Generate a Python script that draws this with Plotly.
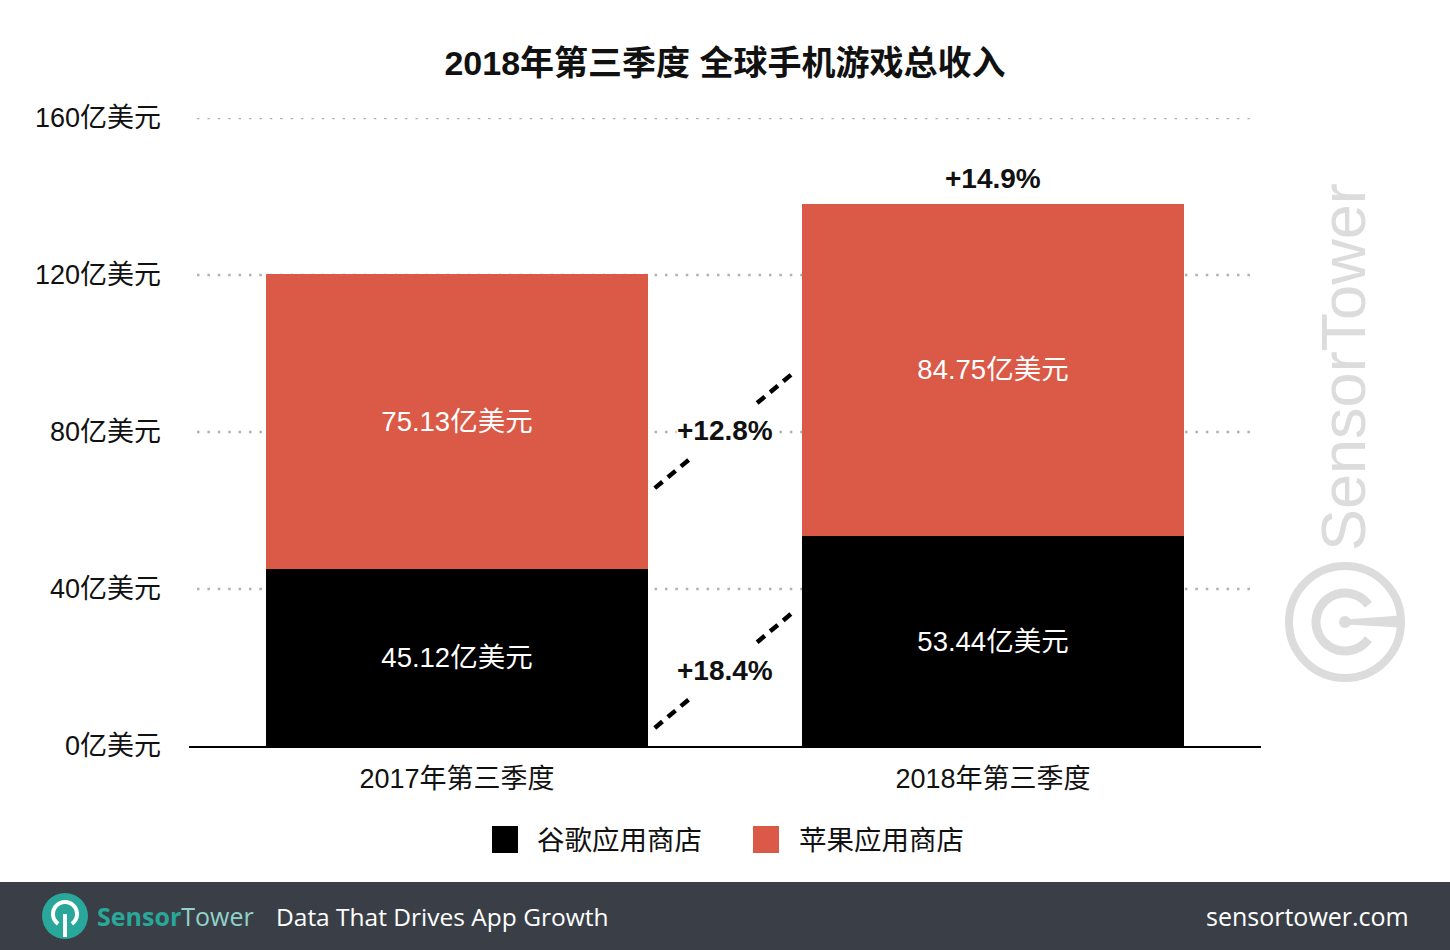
import numpy as np
import plotly.graph_objects as go

# ---------------- data ----------------
categories = ["2017年第三季度", "2018年第三季度"]
google_play = [45.12, 53.44]
app_store = [75.13, 84.75]
series_names = ["谷歌应用商店", "苹果应用商店"]
y_ticks = [0, 40, 80, 120, 160]
y_tick_labels = [f"{v}亿美元" for v in y_ticks]
title_text = "2018年第三季度 全球手机游戏总收入"

# ---------------- style ----------------
FONT = "Liberation Sans, Noto Sans CJK SC"
BLACK = "#000000"
RED = "#da5a47"
GRID = "#b0b0b0"
WM = "#dcdcdc"
FOOT = "#3a3f47"
TEAL = "#2aa79b"
TEAL_L = "#8fd3c9"

W, H = 1450, 950
L, R, T, B = 189, 1261, 118, 746


def X(px):
    return (px - L) / (R - L)


def Y(py):
    return (B - py) / (B - T)


fig = go.Figure()
for name, vals, col in zip(series_names, [google_play, app_store], [BLACK, RED]):
    fig.add_trace(go.Bar(
        x=categories, y=vals, name=name, width=0.713,
        marker=dict(color=col, line=dict(width=0)),
        text=[f"{v:.2f}亿美元" for v in vals],
        textposition="inside", insidetextanchor="middle",
        textfont=dict(family=FONT, size=27.5, color="white"),
        showlegend=False, hoverinfo="skip",
    ))

shapes = []
annotations = []

# dotted gridlines (inset from the plot edges, under the bars)
for v in y_ticks[1:]:
    shapes.append(dict(type="line", xref="paper", yref="y", layer="below",
                       x0=X(197), x1=X(1254), y0=v, y1=v,
                       line=dict(color=GRID, width=2.5, dash="2.5px,7.9px")))

# growth of total above second bar
tot = [g + a for g, a in zip(google_play, app_store)]
annotations.append(dict(
    x=categories[1], y=tot[1], xref="x", yref="y", yanchor="bottom",
    yshift=8, showarrow=False,
    text=f"<b>+{(tot[1] / tot[0] - 1) * 100:.1f}%</b>",
    font=dict(family=FONT, size=28, color="#111"),
))

# connectors between bars with growth labels
connectors = [(4.6, 34.1, google_play), (65.7, 95.0, app_store)]
xa, xb = 0.369, 0.627
for y0, y1, vals in connectors:
    for t0, t1 in [(0.0, 0.26), (0.74, 1.0)]:
        shapes.append(dict(
            type="line", xref="x", yref="y",
            x0=xa + (xb - xa) * t0, x1=xa + (xb - xa) * t1,
            y0=y0 + (y1 - y0) * t0, y1=y0 + (y1 - y0) * t1,
            line=dict(color=BLACK, width=4.5, dash="10px,7px"),
        ))
    annotations.append(dict(
        x=0.5, y=(y0 + y1) / 2, xref="x", yref="y", showarrow=False,
        text=f"<b>+{(vals[1] / vals[0] - 1) * 100:.1f}%</b>",
        font=dict(family=FONT, size=28, color="#111"),
        bgcolor="white", borderpad=0,
    ))

# manual legend
for (sx, tx), name, col in zip([(492, 535), (753, 797)], series_names, [BLACK, RED]):
    shapes.append(dict(type="rect", xref="paper", yref="paper",
                       x0=X(sx), x1=X(sx + 26), y0=Y(853), y1=Y(826),
                       fillcolor=col, line=dict(width=0)))
    annotations.append(dict(x=X(tx), y=Y(840), xref="paper", yref="paper",
                            xanchor="left", yanchor="middle", showarrow=False,
                            text=name, font=dict(family=FONT, size=27.5, color="#111")))

# watermark
annotations.append(dict(x=X(1343), y=Y(367), xref="paper", yref="paper",
                        xanchor="center", yanchor="middle", showarrow=False,
                        textangle=-90, text="SensorTower",
                        font=dict(family="Liberation Sans", size=63, color=WM)))
cx, cy = 1345, 622
shapes.append(dict(type="circle", xref="paper", yref="paper",
                   x0=X(cx - 56), x1=X(cx + 56), y0=Y(cy + 56), y1=Y(cy - 56),
                   line=dict(color=WM, width=8)))
ang = np.radians(np.linspace(36, 324, 40))
pts = [(cx + 29 * np.cos(a), cy - 29 * np.sin(a)) for a in ang]
path = "M " + " L ".join(f"{X(px):.5f},{Y(py):.5f}" for px, py in pts)
shapes.append(dict(type="path", xref="paper", yref="paper", path=path,
                   line=dict(color=WM, width=9)))
stem = [(cx, cy - 2.5), (cx + 56, cy - 6.5), (cx + 56, cy + 5.5), (cx, cy + 2.5)]
path = "M " + " L ".join(f"{X(px):.5f},{Y(py):.5f}" for px, py in stem) + " Z"
shapes.append(dict(type="path", xref="paper", yref="paper", path=path,
                   fillcolor=WM, line=dict(width=0)))
shapes.append(dict(type="circle", xref="paper", yref="paper",
                   x0=X(cx - 6), x1=X(cx + 6), y0=Y(cy + 6), y1=Y(cy - 6),
                   fillcolor=WM, line=dict(width=0)))

# footer band
shapes.append(dict(type="rect", xref="paper", yref="paper",
                   x0=X(-5), x1=X(W + 5), y0=Y(H + 5), y1=Y(882),
                   fillcolor=FOOT, line=dict(width=0)))
fx, fy = 65, 916
shapes.append(dict(type="circle", xref="paper", yref="paper",
                   x0=X(fx - 23), x1=X(fx + 23), y0=Y(fy + 23), y1=Y(fy - 23),
                   fillcolor=TEAL, line=dict(width=0)))
ang = np.radians(np.linspace(-55, 235, 40))
pts = [(fx + 12 * np.cos(a), fy - 2 - 12 * np.sin(a)) for a in ang]
path = "M " + " L ".join(f"{X(px):.5f},{Y(py):.5f}" for px, py in pts)
shapes.append(dict(type="path", xref="paper", yref="paper", path=path,
                   line=dict(color="white", width=4)))
shapes.append(dict(type="line", xref="paper", yref="paper",
                   x0=X(fx), x1=X(fx), y0=Y(fy - 2), y1=Y(fy + 21),
                   line=dict(color="white", width=4)))
annotations.append(dict(x=X(95), y=Y(916), xref="paper", yref="paper",
                        xanchor="left", yanchor="middle", showarrow=False,
                        text=f"<span style='color:{TEAL}'><b>Sensor</b></span>"
                             f"<span style='color:{TEAL_L}'>Tower</span>",
                        font=dict(family="Open Sans", size=25)))
annotations.append(dict(x=X(274), y=Y(916), xref="paper", yref="paper",
                        xanchor="left", yanchor="middle", showarrow=False,
                        text="Data That Drives App Growth",
                        font=dict(family="Open Sans", size=24.5, color="white")))
annotations.append(dict(x=X(1411), y=Y(916), xref="paper", yref="paper",
                        xanchor="right", yanchor="middle", showarrow=False,
                        text="sensortower.com",
                        font=dict(family="Open Sans", size=25, color="white")))

fig.update_layout(
    width=W, height=H, autosize=False,
    margin=dict(l=L, r=W - R, t=T, b=H - B, pad=0),
    paper_bgcolor="white", plot_bgcolor="white",
    barmode="stack",
    title=dict(text=f"<b>{title_text}</b>", x=0.5, xanchor="center",
               y=1 - 63 / H, yanchor="middle",
               font=dict(family=FONT, size=34, color="#111")),
    font=dict(family=FONT, color="#111"),
    xaxis=dict(type="category", range=[-0.5, 1.5], showline=True,
               linecolor=BLACK, linewidth=2, ticks="", showgrid=False,
               tickfont=dict(family=FONT, size=27, color="#111"),
               ticklabelstandoff=8),
    yaxis=dict(range=[0, 160], tickvals=y_ticks, ticktext=y_tick_labels,
               showgrid=False, zeroline=False, showline=False, ticks="",
               tickfont=dict(family=FONT, size=27, color="#111"),
               ticklabelstandoff=27),
    shapes=shapes, annotations=annotations,
)

fig.write_html("out.html")
